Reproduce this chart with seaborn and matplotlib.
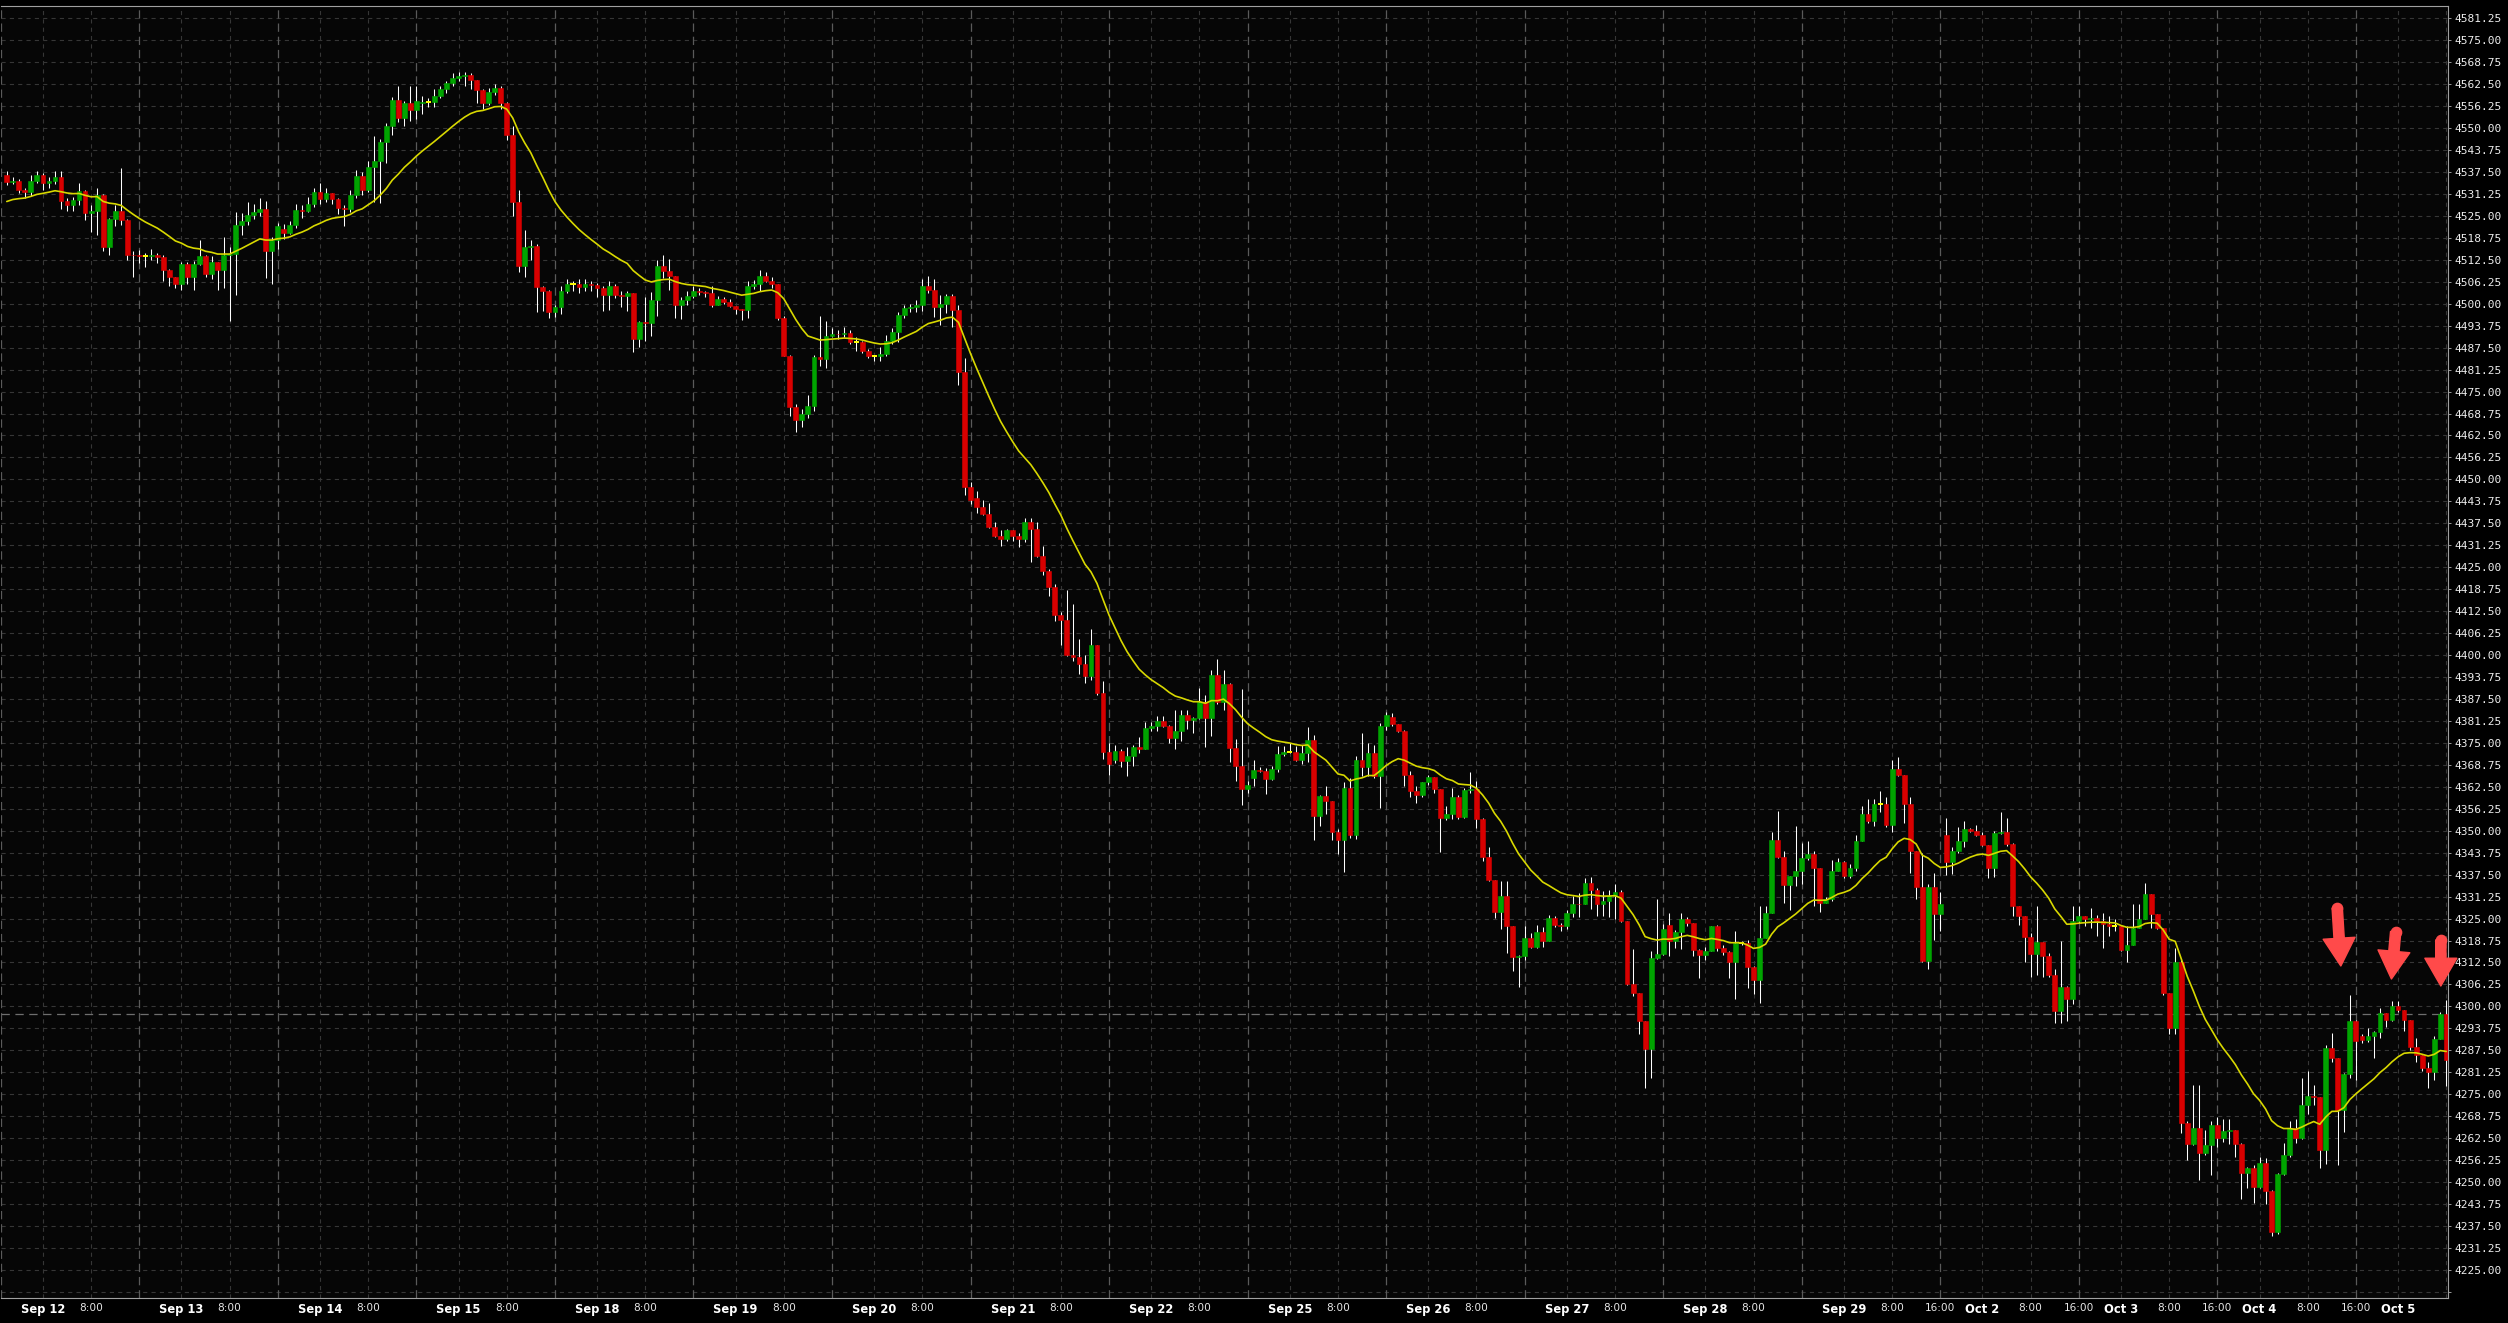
import numpy as np
import pandas as pd
import matplotlib
matplotlib.use("Agg")
import matplotlib.pyplot as plt
import seaborn as sns

sns.set_theme(style="dark")
plt.rcParams['font.family'] = ['DejaVu Sans']
plt.rcParams['lines.scale_dashes'] = False

# hourly closes, one row per trading session (23 bars, last one partial)
closes = [
    4534.75, 4535.0, 4532.25, 4531.75, 4535.0, 4536.5, 4534.25, 4535.0, 4536.0, 4529.25, 4528.0, 4529.5, 4532.0, 4525.75, 4526.5, 4531.0, 4516.0, 4524.0, 4526.5, 4523.75, 4514.0, 4513.75, 4513.5,
    4513.5, 4514.0, 4513.25, 4509.5, 4507.5, 4505.75, 4511.25, 4507.5, 4511.25, 4513.5, 4508.5, 4511.75, 4509.5, 4514.0, 4514.25, 4522.5, 4523.5, 4525.25, 4526.0, 4527.0, 4515.0, 4518.25, 4522.0,
    4520.25, 4522.5, 4526.75, 4526.25, 4528.5, 4531.75, 4529.75, 4531.5, 4529.75, 4527.25, 4527.0, 4531.0, 4536.25, 4532.5, 4539.0, 4540.5, 4546.0, 4550.5, 4558.0, 4553.0, 4557.25, 4555.0, 4557.75,
    4557.5, 4557.5, 4559.25, 4561.0, 4562.75, 4564.25, 4564.75, 4565.0, 4563.75, 4560.75, 4557.25, 4560.25, 4561.5, 4557.0, 4548.0, 4529.0, 4510.75, 4516.0, 4516.5, 4504.75, 4503.75, 4497.75, 4499.0,
    4503.5, 4505.5, 4505.5, 4504.75, 4505.75, 4505.25, 4504.5, 4502.5, 4505.0, 4502.5, 4502.25, 4503.0, 4490.0, 4494.75, 4494.5, 4501.0, 4510.75, 4509.25, 4507.75, 4499.75, 4501.0, 4502.25, 4503.75,
    4503.25, 4503.0, 4499.75, 4501.25, 4500.5, 4499.25, 4498.5, 4498.25, 4505.0, 4505.5, 4508.0, 4506.5, 4505.5, 4496.0, 4485.0, 4470.5, 4467.0, 4468.5, 4471.0, 4484.75, 4484.25, 4490.75, 4491.5,
    4491.25, 4491.75, 4489.0, 4489.0, 4486.5, 4485.0, 4485.0, 4485.75, 4489.25, 4492.0, 4496.75, 4498.75, 4499.0, 4499.5, 4505.0, 4504.0, 4499.0, 4500.0, 4502.25, 4498.25, 4480.5, 4447.75, 4444.0,
    4442.25, 4440.25, 4436.5, 4434.0, 4433.0, 4435.5, 4434.0, 4433.0, 4437.75, 4435.75, 4428.25, 4424.0, 4419.5, 4411.5, 4410.0, 4400.0, 4399.5, 4397.5, 4394.0, 4402.75, 4389.25, 4372.5, 4369.0,
    4372.75, 4369.75, 4371.25, 4373.75, 4373.25, 4379.25, 4379.75, 4381.25, 4379.75, 4376.5, 4378.5, 4383.0, 4381.5, 4382.0, 4386.75, 4382.0, 4394.25, 4386.75, 4391.75, 4373.5, 4368.5, 4362.0, 4363.0,
    4367.25, 4367.0, 4364.75, 4367.5, 4371.75, 4372.5, 4372.5, 4370.25, 4372.0, 4375.75, 4354.25, 4360.0, 4358.5, 4349.5, 4347.5, 4362.25, 4348.75, 4370.0, 4368.25, 4372.0, 4365.5, 4379.75, 4383.0,
    4380.25, 4378.5, 4366.0, 4361.25, 4360.25, 4363.75, 4365.25, 4362.0, 4353.5, 4354.75, 4359.5, 4354.0, 4361.5, 4361.75, 4353.25, 4342.5, 4336.0, 4326.75, 4331.5, 4322.75, 4314.0, 4314.25, 4319.5,
    4317.0, 4321.25, 4318.75, 4325.25, 4323.25, 4322.75, 4326.5, 4329.25, 4329.0, 4335.0, 4333.25, 4329.0, 4330.0, 4331.5, 4332.5, 4324.25, 4306.25, 4303.75, 4295.75, 4287.75, 4313.75, 4315.0, 4322.0,
    4318.75, 4321.25, 4324.75, 4323.75, 4316.0, 4314.5, 4315.75, 4322.75, 4316.5, 4315.5, 4312.5, 4318.0, 4318.0, 4311.25, 4307.5, 4319.5, 4326.5, 4347.5, 4342.5, 4334.5, 4337.0, 4338.5, 4342.25,
    4343.5, 4339.25, 4329.5, 4330.5, 4338.5, 4341.0, 4337.0, 4339.5, 4347.0, 4354.75, 4352.75, 4357.5, 4357.5, 4351.5, 4367.5, 4365.75, 4357.5, 4344.25, 4334.0, 4313.0, 4334.0, 4326.25, 4329.0,
    4341.0, 4344.25, 4347.0, 4350.5, 4350.0, 4348.75, 4346.0, 4339.25, 4349.25, 4349.5, 4346.25, 4328.5, 4325.75, 4319.75, 4315.0, 4318.25, 4314.25, 4309.0, 4298.75, 4305.5, 4302.0, 4324.25, 4325.75,
    4325.0, 4325.25, 4324.25, 4323.5, 4323.0, 4323.0, 4316.0, 4317.5, 4322.25, 4324.75, 4332.0, 4326.25, 4322.25, 4303.75, 4293.75, 4312.75, 4266.75, 4260.75, 4265.5, 4258.25, 4260.5, 4266.25, 4262.5,
    4264.5, 4264.75, 4260.75, 4252.5, 4254.0, 4248.5, 4255.5, 4247.5, 4235.75, 4252.25, 4257.75, 4265.25, 4262.5, 4272.0, 4274.5, 4274.25, 4259.0, 4288.25, 4285.25, 4270.5, 4280.75, 4295.75, 4290.25,
    4290.5, 4291.5, 4292.75, 4298.0, 4296.0, 4300.0, 4299.0, 4296.25, 4288.5, 4286.25, 4282.5, 4281.25, 4290.75, 4297.75, 4284.75,
]

highs = [
    4537.75, 4536.0, 4535.5, 4533.0, 4536.5, 4537.75, 4537.25, 4536.0, 4537.75, 4537.75, 4530.0, 4530.5, 4534.5, 4532.5, 4528.0, 4533.0, 4531.25, 4524.5, 4528.0, 4538.75, 4524.0, 4515.0, 4515.25,
    4514.5, 4515.5, 4514.5, 4514.0, 4509.75, 4507.5, 4512.0, 4512.0, 4512.25, 4518.0, 4514.0, 4513.5, 4512.0, 4519.0, 4516.0, 4526.0, 4525.75, 4529.0, 4528.5, 4530.0, 4529.25, 4519.0, 4523.0,
    4522.75, 4523.5, 4528.5, 4528.0, 4530.5, 4533.0, 4534.25, 4533.0, 4531.0, 4530.0, 4528.0, 4532.5, 4538.0, 4537.5, 4540.5, 4547.75, 4547.0, 4551.5, 4558.75, 4562.0, 4557.75, 4562.0, 4562.0,
    4559.0, 4558.5, 4561.0, 4562.0, 4563.5, 4565.75, 4566.0, 4566.0, 4565.75, 4562.0, 4561.0, 4561.5, 4562.5, 4562.0, 4557.5, 4550.5, 4532.5, 4521.0, 4518.0, 4517.0, 4505.0, 4504.0, 4499.75,
    4505.0, 4507.0, 4506.5, 4507.0, 4507.0, 4506.5, 4506.0, 4505.0, 4506.5, 4505.5, 4503.75, 4503.5, 4503.0, 4495.0, 4502.0, 4503.25, 4512.5, 4514.0, 4512.75, 4507.75, 4502.0, 4503.75, 4505.0,
    4504.5, 4503.75, 4505.0, 4502.25, 4502.0, 4501.25, 4499.0, 4498.5, 4506.5, 4506.75, 4509.5, 4509.0, 4507.5, 4505.75, 4496.5, 4485.5, 4471.5, 4470.0, 4474.0, 4485.5, 4496.5, 4495.0, 4493.0,
    4492.5, 4493.5, 4492.5, 4490.5, 4489.5, 4487.0, 4485.5, 4487.75, 4491.0, 4493.0, 4497.5, 4499.5, 4500.0, 4501.0, 4507.0, 4508.0, 4507.0, 4502.5, 4502.75, 4502.75, 4499.5, 4484.5, 4449.25,
    4446.75, 4444.0, 4443.25, 4438.0, 4435.5, 4435.75, 4435.5, 4434.75, 4439.0, 4439.0, 4438.0, 4431.0, 4424.5, 4420.25, 4412.25, 4418.5, 4414.5, 4404.5, 4400.0, 4407.5, 4403.0, 4392.5, 4375.0,
    4374.5, 4373.25, 4373.75, 4374.5, 4376.75, 4381.0, 4381.0, 4382.75, 4382.75, 4380.0, 4384.25, 4384.25, 4384.25, 4382.25, 4390.5, 4388.5, 4395.75, 4398.75, 4395.75, 4392.0, 4376.0, 4390.25, 4364.25,
    4370.25, 4368.0, 4367.75, 4368.5, 4374.25, 4374.0, 4375.0, 4374.0, 4374.5, 4379.5, 4377.25, 4360.25, 4362.75, 4358.5, 4350.5, 4363.75, 4365.0, 4371.25, 4377.75, 4375.0, 4374.5, 4380.75, 4383.75,
    4383.5, 4380.5, 4378.75, 4367.0, 4362.75, 4364.0, 4365.75, 4365.25, 4361.75, 4357.0, 4362.25, 4360.25, 4362.25, 4366.75, 4364.25, 4353.75, 4345.5, 4335.75, 4335.75, 4335.75, 4323.0, 4314.75, 4322.75,
    4321.0, 4323.25, 4322.5, 4326.0, 4325.75, 4323.75, 4327.5, 4331.5, 4332.25, 4336.5, 4336.75, 4333.75, 4332.75, 4333.25, 4334.75, 4333.25, 4324.25, 4316.25, 4303.75, 4295.5, 4315.75, 4330.5, 4323.5,
    4326.5, 4321.75, 4326.5, 4325.5, 4323.75, 4316.25, 4317.0, 4323.0, 4323.25, 4317.5, 4315.75, 4321.5, 4318.5, 4319.0, 4311.5, 4328.5, 4328.5, 4349.5, 4355.5, 4344.25, 4337.25, 4351.25, 4346.5,
    4347.0, 4344.25, 4339.5, 4331.0, 4341.75, 4342.25, 4341.5, 4340.5, 4348.75, 4357.0, 4359.0, 4359.0, 4361.25, 4359.5, 4370.0, 4371.0, 4366.0, 4359.5, 4343.75, 4343.75, 4334.75, 4338.0, 4332.5,
    4353.75, 4345.25, 4351.0, 4352.75, 4350.75, 4351.75, 4349.5, 4346.0, 4350.0, 4355.25, 4353.5, 4346.5, 4328.25, 4325.5, 4320.75, 4328.5, 4318.25, 4315.25, 4310.5, 4318.5, 4305.75, 4328.5, 4328.5,
    4325.75, 4328.0, 4326.0, 4326.5, 4325.75, 4324.75, 4322.75, 4322.75, 4329.0, 4329.0, 4335.25, 4331.75, 4326.25, 4322.25, 4303.75, 4316.5, 4313.75, 4267.25, 4277.5, 4277.5, 4264.75, 4267.25, 4268.5,
    4268.0, 4268.0, 4264.75, 4261.0, 4254.25, 4254.75, 4257.0, 4256.75, 4247.75, 4252.5, 4261.0, 4267.5, 4268.0, 4279.5, 4281.5, 4277.5, 4273.75, 4289.0, 4292.5, 4285.25, 4281.0, 4303.25, 4296.25,
    4292.0, 4293.75, 4293.0, 4299.5, 4297.5, 4301.5, 4301.5, 4299.0, 4294.25, 4291.0, 4286.0, 4284.25, 4291.5, 4298.5, 4301.75,
]

lows = [
    4533.75, 4534.0, 4531.5, 4530.0, 4530.75, 4534.5, 4532.5, 4533.0, 4534.0, 4527.0, 4526.5, 4526.25, 4528.0, 4523.75, 4520.5, 4519.5, 4515.0, 4513.75, 4522.0, 4522.5, 4512.5, 4507.5, 4511.5,
    4510.5, 4512.5, 4511.5, 4506.5, 4505.0, 4504.5, 4504.0, 4505.5, 4504.0, 4511.0, 4507.5, 4507.0, 4504.0, 4504.5, 4495.0, 4502.5, 4519.5, 4522.5, 4524.0, 4525.0, 4507.25, 4505.5, 4515.5,
    4518.5, 4519.75, 4521.5, 4524.5, 4526.0, 4527.5, 4528.5, 4529.0, 4528.5, 4525.5, 4522.0, 4526.0, 4530.0, 4531.0, 4531.75, 4529.0, 4528.75, 4540.0, 4548.0, 4551.75, 4550.5, 4552.0, 4552.5,
    4554.0, 4556.0, 4556.0, 4558.5, 4560.0, 4562.0, 4563.5, 4562.0, 4561.0, 4557.25, 4555.5, 4556.5, 4559.5, 4555.5, 4546.5, 4525.0, 4509.0, 4507.5, 4512.5, 4497.5, 4498.0, 4496.0, 4496.25,
    4497.0, 4503.0, 4503.5, 4503.0, 4503.5, 4503.5, 4502.0, 4498.0, 4498.25, 4501.5, 4499.0, 4498.0, 4486.25, 4487.75, 4489.25, 4490.75, 4496.5, 4507.25, 4504.0, 4496.0, 4495.75, 4499.5, 4501.5,
    4502.5, 4502.0, 4499.0, 4499.5, 4500.0, 4499.0, 4497.0, 4495.5, 4496.0, 4504.25, 4503.5, 4506.25, 4504.5, 4495.5, 4485.0, 4468.0, 4463.5, 4465.0, 4467.5, 4469.5, 4482.25, 4481.75, 4490.5,
    4490.0, 4490.5, 4488.5, 4486.5, 4486.0, 4484.5, 4483.75, 4483.75, 4485.0, 4488.5, 4489.0, 4496.0, 4497.5, 4497.5, 4498.0, 4503.0, 4496.25, 4494.0, 4497.25, 4493.25, 4477.0, 4445.5, 4443.0,
    4440.5, 4440.0, 4436.25, 4433.5, 4431.0, 4432.5, 4432.5, 4430.75, 4432.25, 4426.5, 4428.0, 4422.75, 4416.75, 4409.75, 4402.75, 4399.75, 4398.25, 4394.5, 4392.0, 4393.0, 4388.5, 4370.5, 4366.0,
    4369.25, 4368.0, 4365.5, 4368.5, 4372.25, 4373.25, 4378.5, 4378.5, 4379.5, 4375.0, 4373.25, 4375.5, 4379.0, 4377.75, 4381.75, 4373.75, 4377.0, 4386.0, 4384.25, 4369.5, 4364.25, 4357.25, 4360.75,
    4362.75, 4366.75, 4360.5, 4364.5, 4366.75, 4371.25, 4372.0, 4369.75, 4369.0, 4369.5, 4347.25, 4351.25, 4354.75, 4347.5, 4343.25, 4338.25, 4348.0, 4347.75, 4365.5, 4365.5, 4365.0, 4356.5, 4378.75,
    4379.75, 4378.0, 4362.75, 4359.5, 4358.0, 4359.5, 4363.0, 4360.75, 4344.0, 4353.0, 4353.25, 4353.25, 4353.75, 4360.75, 4350.75, 4341.5, 4335.75, 4325.25, 4322.0, 4315.25, 4310.0, 4305.5, 4313.25,
    4316.75, 4316.5, 4317.0, 4318.5, 4322.5, 4321.5, 4322.0, 4325.5, 4325.5, 4329.0, 4327.75, 4325.75, 4325.75, 4325.5, 4324.75, 4324.0, 4306.0, 4303.0, 4292.0, 4276.75, 4279.5, 4313.5, 4314.75,
    4314.25, 4316.75, 4316.25, 4323.0, 4314.25, 4308.0, 4313.25, 4315.75, 4315.75, 4314.75, 4308.0, 4302.0, 4317.5, 4305.25, 4303.5, 4301.0, 4320.0, 4326.5, 4342.25, 4329.5, 4327.5, 4334.25, 4334.75,
    4341.75, 4328.5, 4327.0, 4329.5, 4330.0, 4338.5, 4336.5, 4336.5, 4338.5, 4347.0, 4352.25, 4351.25, 4355.25, 4351.0, 4349.5, 4365.5, 4352.25, 4338.0, 4330.5, 4312.75, 4310.5, 4319.0, 4321.5,
    4337.5, 4337.75, 4343.75, 4345.25, 4349.5, 4348.5, 4345.75, 4336.5, 4336.75, 4349.0, 4345.75, 4325.75, 4323.25, 4312.75, 4308.5, 4309.0, 4308.5, 4308.5, 4295.25, 4295.25, 4295.75, 4300.75, 4323.75,
    4322.75, 4322.25, 4320.0, 4316.5, 4320.0, 4321.5, 4315.75, 4312.75, 4318.25, 4322.25, 4324.75, 4322.25, 4322.0, 4303.25, 4292.0, 4292.0, 4264.0, 4256.25, 4260.5, 4250.5, 4257.75, 4252.0, 4260.0,
    4261.5, 4260.75, 4257.25, 4245.25, 4248.25, 4244.0, 4248.25, 4243.75, 4234.75, 4235.25, 4252.0, 4257.0, 4261.0, 4262.25, 4269.5, 4272.0, 4254.0, 4255.25, 4284.25, 4254.75, 4264.25, 4279.5, 4279.0,
    4289.5, 4290.0, 4285.25, 4291.0, 4294.25, 4295.75, 4298.5, 4293.0, 4287.5, 4284.25, 4281.5, 4276.75, 4279.0, 4290.75, 4277.25,
]

# opening price of the first bar of each session (gaps at the session start)
session_opens = [4536.5, 4513.5, 4521.25, 4557.0, 4499.0, 4503.5, 4491.5, 4444.75, 4370.0,
                 4365.0, 4382.25, 4319.5, 4323.25, 4342.25, 4348.75, 4325.75, 4262.5, 4291.5]

day_labels = ["Sep 12", "Sep 13", "Sep 14", "Sep 15", "Sep 18", "Sep 19", "Sep 20", "Sep 21", "Sep 22",
              "Sep 25", "Sep 26", "Sep 27", "Sep 28", "Sep 29", "Oct 2", "Oct 3", "Oct 4", "Oct 5"]
afternoon_label_days = ["Sep 29", "Oct 2", "Oct 3", "Oct 4"]

ma_seed = 4528.5        # moving average value just before the first bar
price_line = 4297.75
# red arrows: (x start, price start, x tip, price tip)
arrow_marks = [(386.9, 4328.0, 387.5, 4311.5),
               (396.6, 4321.2, 395.9, 4307.8),
               (404.1, 4318.9, 404.1, 4305.8)]

BARS = 23
n = len(closes)
idx = np.arange(n)
c = np.array(closes)
o = np.empty(n)
o[0] = closes[0]
o[1:] = c[:-1]
for d, v in enumerate(session_opens):
    o[d * BARS] = v
h = np.maximum(np.array(highs), np.maximum(o, c))
l = np.minimum(np.array(lows), np.minimum(o, c))
ma = pd.Series([ma_seed] + closes).ewm(span=20, adjust=False).mean().iloc[1:].to_numpy()

fig = plt.figure(figsize=(25.08, 13.23), dpi=100, facecolor="black")
ax = fig.add_axes([0.0004, 0.0189, 0.9757, 0.9766])
ax.set_facecolor("#060606")
ax.set_xlim(-0.96, 405.3)
ax.set_ylim(4217.0, 4584.75)

# grid
yt = np.arange(4218.75, 4581.3, 6.25)
for y in yt:
    ax.axhline(y, color="#363636", lw=0.8, ls=(0, (3, 3)), zorder=0)
for d in range(-1, 18):
    for hr in (6, 14):
        ax.axvline(d * BARS + hr, color="#363636", lw=0.8, ls=(0, (3, 3)), zorder=0)
    ax.axvline(d * BARS + 22, color="#5a5a5a", lw=0.9, ls=(0, (6, 3.5)), zorder=0)

ax.axhline(price_line, color="#6e6e6e", lw=0.9, ls=(0, (6, 4)), zorder=1)

# candles
ax.vlines(idx, l, h, color="white", lw=0.75, zorder=2)
up = c > o
dn = c < o
eq = c == o
ax.bar(idx[up], (c - o)[up], bottom=o[up], width=0.8, color="#00a400",
       edgecolor="#00a400", linewidth=0.4, zorder=3)
ax.bar(idx[dn], (c - o)[dn], bottom=o[dn], width=0.8, color="#d80000",
       edgecolor="#d80000", linewidth=0.4, zorder=3)
ax.hlines(c[eq], idx[eq] - 0.42, idx[eq] + 0.42, color="#ffff00", lw=1.4, zorder=3)

sns.lineplot(x=idx, y=ma, color="#d8d800", lw=1.2, ax=ax, zorder=4, legend=False)

# annotation arrows
for xs, ys, xt, ytip in arrow_marks:
    ax.annotate("", xy=(xt, ytip), xytext=(xs, ys),
                arrowprops=dict(arrowstyle="simple,head_length=1.0,head_width=1.15,tail_width=0.37",
                                color="#ff4a4a", mutation_scale=20, shrinkA=0, shrinkB=0),
                zorder=6)
    ax.plot(xs, ys, "o", ms=7.4, color="#ff4a4a", zorder=6, clip_on=False)

# y axis on the right
ax.yaxis.tick_right()
ax.set_yticks(yt)
ax.set_yticklabels([f"{v:.2f}" if v >= 4225 else "" for v in yt],
                   fontfamily="DejaVu Sans Mono", fontsize=8, color="#eeeeee")
ax.tick_params(axis="y", length=2.2, width=0.7, color="#9a9a9a", pad=2.2)

# x axis labels
xt_pos, xt_lab, xt_bold = [], [], []
for d, name in enumerate(day_labels):
    xt_pos.append(d * BARS + 6)
    xt_lab.append(name)
    xt_bold.append(True)
    if d < len(day_labels) - 1:
        xt_pos.append(d * BARS + 14)
        xt_lab.append("8:00")
        xt_bold.append(False)
    if name in afternoon_label_days:
        xt_pos.append(d * BARS + 22)
        xt_lab.append("16:00")
        xt_bold.append(False)
ax.set_xticks(xt_pos)
ax.set_xticklabels(xt_lab)
for t, b in zip(ax.get_xticklabels(), xt_bold):
    if b:
        t.set_fontweight("bold")
        t.set_fontsize(8.3)
        t.set_color("white")
    else:
        t.set_fontsize(7.6)
        t.set_color("#e6e6e6")
ax.tick_params(axis="x", length=0, pad=3.5)
ax.set_xlabel("")
ax.set_ylabel("")

for side in ("top", "right", "bottom"):
    ax.spines[side].set_color("#a0a0a0")
    ax.spines[side].set_linewidth(0.8)
    ax.spines[side].set_visible(True)
ax.spines["left"].set_visible(False)

fig.savefig("out.png", dpi=100, facecolor="black")
